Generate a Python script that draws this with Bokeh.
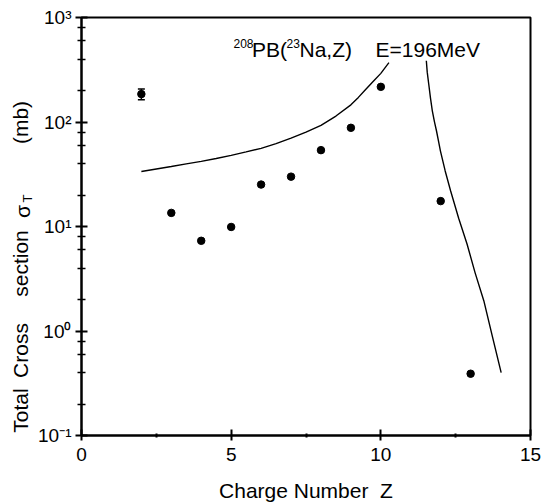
import math
from bokeh.plotting import figure
from bokeh.layouts import row
from bokeh.models import FixedTicker, Label, Whisker, ColumnDataSource, TeeHead
from bokeh.embed import file_html
from bokeh.resources import INLINE

# ---- data ----
Z_data = [2, 3, 4, 5, 6, 7, 8, 9, 10, 12, 13]
sigma_data = [185, 13.5, 7.3, 9.9, 25.2, 30, 53.8, 88, 217, 17.5, 0.39]
err_Z = [2]
err_lo = [163]
err_hi = [207]
calc_left_Z = [2, 2.5, 3, 3.5, 4, 4.5, 5, 5.5, 6, 6.5, 7, 7.5, 8, 8.5, 9, 9.25, 9.5, 9.75, 10, 10.27]
calc_left_sigma = [33.6, 35.5, 37.5, 39.7, 42, 44.8, 48, 51.8, 56, 62, 70, 80, 93, 114, 146, 172, 206, 245, 292, 370]
calc_right_Z = [11.52, 11.55, 11.6, 11.66, 11.72, 11.79, 11.86, 11.93, 11.99, 12.15, 12.33, 12.6, 12.88, 13.15, 13.44, 13.73, 14.02]
calc_right_sigma = [385, 300, 231, 168, 128, 101, 82, 65, 53, 34, 22, 12, 6.8, 3.6, 1.95, 0.88, 0.40]
x_ticks = [0, 5, 10, 15]
x_minor = [2.5, 7.5, 12.5]
y_ticks = [0.1, 1, 10, 100, 1000]
y_tick_labels = ["10\u207b\u00b9", "10\u2070", "10\u00b9", "10\u00b2", "10\u00b3"]
y_minor = [m * t for t in y_ticks[:-1] for m in (2, 4, 6, 8)]

FONT = "Liberation Sans"
W, H = 542, 504
SIDE_W = 35
L, R, T, B = 81, 12, 17, 69
XMIN, XMAX = 0, 15
YMIN, YMAX = 0.1, 1000

# ---------- main plot ----------
p = figure(width=W - SIDE_W, height=H, x_range=(XMIN, XMAX), y_range=(YMIN, YMAX),
           y_axis_type="log", output_backend="svg", toolbar_location=None,
           min_border_left=L - SIDE_W, min_border_right=R, min_border_top=T,
           min_border_bottom=B, background_fill_color="white", border_fill_color="white")
p.xgrid.visible = False
p.ygrid.visible = False
p.outline_line_color = "black"
p.outline_line_width = 2

fw, fh = W - L - R, H - T - B


def px2x(px):
    return XMIN + (px - L) / fw * (XMAX - XMIN)


def py2y(py):
    lo, hi = math.log10(YMIN), math.log10(YMAX)
    return 10 ** (hi - (py - T) / fh * (hi - lo))


xa = p.xaxis[0]
xa.ticker = FixedTicker(ticks=x_ticks, minor_ticks=x_minor)
xa.axis_line_width = 2
xa.major_tick_line_width = 2
xa.minor_tick_line_width = 2
xa.major_tick_in = 6
xa.major_tick_out = 5
xa.minor_tick_in = 2
xa.minor_tick_out = 2
xa.major_label_text_font = FONT
xa.major_label_text_font_size = "19px"
xa.major_label_text_color = "black"
xa.major_label_standoff = 7
xa.axis_label = "Charge Number\u00a0\u00a0Z"
xa.axis_label_text_font = FONT
xa.axis_label_text_font_size = "21px"
xa.axis_label_text_font_style = "normal"
xa.axis_label_text_color = "black"
xa.axis_label_standoff = 15

ya = p.yaxis[0]
ya.ticker = FixedTicker(ticks=y_ticks, minor_ticks=y_minor)
ya.major_label_overrides = {t: s for t, s in zip(y_ticks, y_tick_labels)}
ya.axis_line_width = 2
ya.major_tick_line_width = 2
ya.minor_tick_line_width = 1.5
ya.major_tick_in = 6
ya.major_tick_out = 6
ya.minor_tick_in = 4
ya.minor_tick_out = 4
ya.major_label_text_font = FONT
ya.major_label_text_font_size = "19px"
ya.major_label_text_color = "black"
ya.major_label_standoff = 4

# title inside the frame
for txt, lx, by, fs in [("208", 233, 43, "12px"), ("PB(", 251.5, 49, "21px"),
                        ("23", 286, 43, "12px"), ("Na,Z)", 299, 49, "21px"),
                        ("E=196MeV", 375, 49, "21px")]:
    p.add_layout(Label(x=px2x(lx), y=py2y(by), text=txt, text_align="left",
                       text_baseline="alphabetic", text_font=FONT, text_font_size=fs,
                       text_color="black"))

# curves
p.line(calc_left_Z, calc_left_sigma, line_color="black", line_width=1.4)
p.line(calc_right_Z, calc_right_sigma, line_color="black", line_width=1.4)

# error bar
src = ColumnDataSource(dict(x=err_Z, lo=err_lo, hi=err_hi))
p.add_layout(Whisker(base="x", lower="lo", upper="hi", source=src, line_color="black",
                     line_width=1.5,
                     upper_head=TeeHead(size=7, line_width=1.5, line_color="black"),
                     lower_head=TeeHead(size=7, line_width=1.5, line_color="black")))

# data points
p.scatter(Z_data, sigma_data, size=7.5, color="black")

# ---------- side strip holding the rotated y-axis title ----------
# (its frame is aligned with the main frame: pixel rows T .. H-B)
s = figure(width=SIDE_W, height=H, x_range=(0, SIDE_W), y_range=(B, H - T),
           x_axis_location=None, y_axis_location=None, toolbar_location=None,
           output_backend="svg", min_border=0, outline_line_color=None,
           background_fill_color="white", border_fill_color="white")
s.grid.visible = False
ylabel_parts = ["Total", "Cross", "section", "\u03c3", "T", "(mb)"]
ylabel_cy = [410, 350, 263, 211, 198, 122]
ylabel_cx = [20, 20, 20, 21.5, 26.5, 20]
ylabel_fs = ["21px", "21px", "21px", "21px", "13px", "21px"]
for txt, cy, cx, fs in zip(ylabel_parts, ylabel_cy, ylabel_cx, ylabel_fs):
    s.add_layout(Label(x=cx, y=H - cy, text=txt, angle=90, angle_units="deg",
                       text_align="center", text_baseline="middle", text_font=FONT,
                       text_font_size=fs, text_color="black"))

layout = row(s, p, spacing=0)
open("out.html", "w").write(file_html(layout, INLINE))
